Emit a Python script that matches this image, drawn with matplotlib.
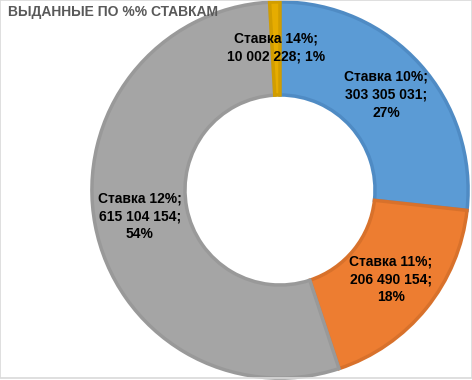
import matplotlib.pyplot as plt
from matplotlib.patches import Rectangle

plt.rcParams['font.family'] = ['Liberation Sans', 'DejaVu Sans']

labels = ['Ставка 10%', 'Ставка 11%', 'Ставка 12%', 'Ставка 14%']
values = [303305031, 206490154, 615104154, 10002228]
pct_text = ['27%', '18%', '54%', '1%']
colors = ['#5b9bd5', '#ed7d31', '#a5a5a5', '#e6ac00']
edges = ['#4f8bc4', '#d8712b', '#999999', '#d19d00']


def fmt(v):
    return f'{v:,}'.replace(',', ' ')


texts = [f'{labels[0]};\n{fmt(values[0])};\n{pct_text[0]}',
         f'{labels[1]};\n{fmt(values[1])};\n{pct_text[1]}',
         f'{labels[2]};\n{fmt(values[2])};\n{pct_text[2]}',
         f'{labels[3]};\n{fmt(values[3])}; {pct_text[3]}']

fig = plt.figure(figsize=(4.72, 3.80), dpi=100)
ax = fig.add_axes([0, 0, 1, 1])

wedges, _ = ax.pie(values, colors=colors, startangle=90, counterclock=False,
                   radius=0.99, wedgeprops=dict(width=0.49, linewidth=2.5))
for w, ec in zip(wedges, edges):
    w.set_edgecolor(ec)

import numpy as np
for w, t in zip(wedges, texts):
    ang = np.deg2rad((w.theta1 + w.theta2) / 2)
    r = 0.75
    ax.text(r * np.cos(ang), r * np.sin(ang), t, ha='center', va='center',
            fontsize=10, fontweight='bold', color='black', linespacing=1.35)

ax.set_xlim(-280 / 190, 192 / 190)
ax.set_ylim(-1, 1)
ax.set_aspect('equal')
ax.axis('off')

fig.text(8 / 472, 1 - 12 / 380, 'ВЫДАННЫЕ ПО %% СТАВКАМ', ha='left', va='center',
         fontsize=10, fontweight='bold', color='#595959')

fig.patches.append(Rectangle((0, 0.004), 0.999, 0.995, transform=fig.transFigure,
                             fill=False, edgecolor='#d9d9d9', linewidth=1.2))

fig.savefig('out.png', dpi=100)
